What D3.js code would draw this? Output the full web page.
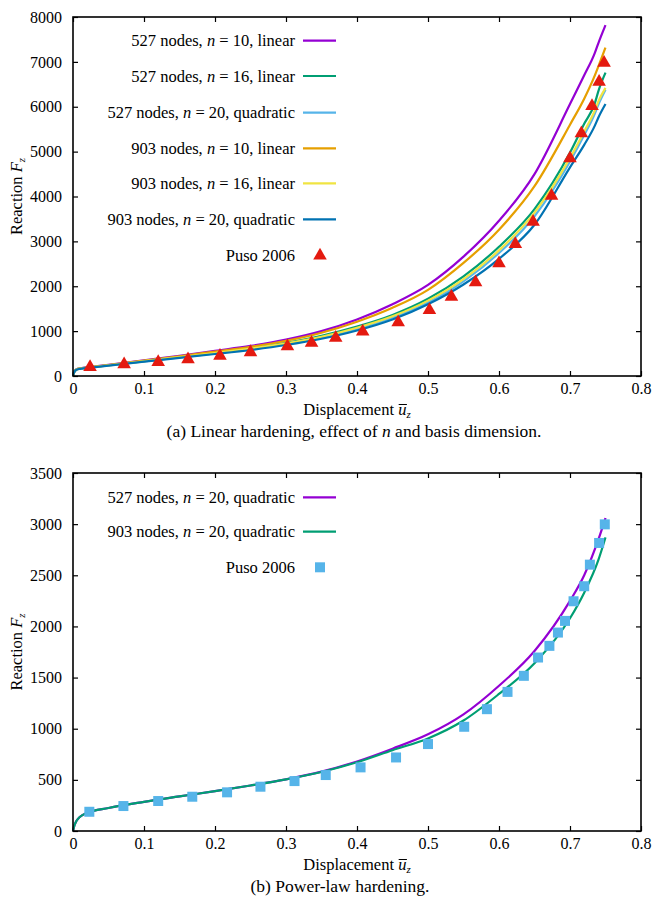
<!DOCTYPE html>
<html><head><meta charset="utf-8">
<script src="https://cdn.jsdelivr.net/npm/d3@7"></script>
<style>
html,body{margin:0;padding:0;background:#fff;}
svg text{font-family:"Liberation Serif","DejaVu Serif",serif;fill:#000;}
</style></head>
<body><svg id="c" width="654" height="898"></svg>
<script>
// ---------- data: panel (a) linear hardening ----------
const xA = [0, 0.002, 0.005, 0.01, 0.025, 0.05, 0.1, 0.15, 0.2, 0.25, 0.3, 0.35, 0.4, 0.45, 0.5, 0.55, 0.6, 0.65, 0.7, 0.72, 0.735, 0.74, 0.75];
const a527n10 = [0, 100, 150, 170, 200, 250, 350, 450, 560, 670, 810, 1000, 1260, 1600, 2030, 2660, 3460, 4500, 6060, 6700, 7200, 7420, 7820];
const a527n16 = [0, 98, 145, 165, 193, 240, 333, 425, 520, 620, 740, 895, 1100, 1360, 1720, 2220, 2880, 3720, 4980, 5620, 6080, 6350, 6760];
const a527n20q = [0, 96, 142, 162, 190, 236, 326, 415, 505, 600, 715, 860, 1050, 1300, 1640, 2110, 2740, 3560, 4780, 5370, 5850, 6050, 6380];
const a903n10 = [0, 100, 148, 168, 197, 245, 342, 440, 545, 650, 785, 965, 1210, 1520, 1920, 2520, 3260, 4230, 5600, 6180, 6700, 6900, 7320];
const a903n16 = [0, 97, 143, 163, 191, 238, 330, 420, 512, 610, 728, 875, 1075, 1330, 1680, 2160, 2800, 3640, 4860, 5450, 5920, 6120, 6420];
const a903n20q = [0, 95, 140, 160, 187, 232, 320, 405, 490, 580, 690, 830, 1015, 1260, 1600, 2040, 2610, 3370, 4650, 5150, 5580, 5760, 6060];
const pusoAx = [0.024, 0.072, 0.12, 0.162, 0.207, 0.25, 0.302, 0.336, 0.37, 0.408, 0.458, 0.502, 0.533, 0.567, 0.6, 0.623, 0.648, 0.674, 0.7, 0.716, 0.731, 0.741, 0.748];
const pusoAy = [200, 260, 310, 370, 450, 530, 660, 740, 850, 990, 1196, 1470, 1767, 2087, 2510, 2940, 3437, 4016, 4848, 5405, 6013, 6555, 6978];
const seriesA = ["527 nodes, |n| = 10, linear", "527 nodes, |n| = 16, linear", "527 nodes, |n| = 20, quadratic",
                 "903 nodes, |n| = 10, linear", "903 nodes, |n| = 16, linear", "903 nodes, |n| = 20, quadratic"];
const yTicksA = [0, 1000, 2000, 3000, 4000, 5000, 6000, 7000, 8000];

// ---------- data: panel (b) power-law hardening ----------
const xB = [0, 0.002, 0.005, 0.01, 0.02, 0.05, 0.1, 0.15, 0.2, 0.25, 0.3, 0.35, 0.4, 0.45, 0.5, 0.55, 0.6, 0.65, 0.7, 0.72, 0.74, 0.75];
const b527n20q = [0, 55, 100, 140, 178, 225, 285, 338, 390, 445, 505, 580, 680, 805, 945, 1140, 1420, 1760, 2250, 2500, 2850, 3060];
const b903n20q = [0, 55, 100, 140, 178, 225, 285, 338, 390, 445, 505, 577, 672, 790, 905, 1080, 1340, 1640, 2080, 2330, 2650, 2870];
const pusoBx = [0.023, 0.071, 0.12, 0.168, 0.217, 0.264, 0.312, 0.356, 0.405, 0.455, 0.5, 0.551, 0.583, 0.612, 0.635, 0.655, 0.671, 0.683, 0.693, 0.705, 0.720, 0.728, 0.741, 0.749];
const pusoBy = [188, 244, 293, 335, 378, 433, 488, 547, 622, 719, 850, 1019, 1191, 1360, 1517, 1696, 1810, 1940, 2054, 2246, 2393, 2604, 2816, 2998];
const seriesB = ["527 nodes, |n| = 20, quadratic", "903 nodes, |n| = 20, quadratic"];
const yTicksB = [0, 500, 1000, 1500, 2000, 2500, 3000, 3500];

const xTicks = [0, 0.1, 0.2, 0.3, 0.4, 0.5, 0.6, 0.7, 0.8];
const puso = "Puso 2006";
const captionA = ["(a) Linear hardening, effect of ", "n", " and basis dimension."];
const captionB = "(b) Power-law hardening.";

const colA = ["#9400d3", "#009e73", "#56b4e9", "#e69f00", "#f0e442", "#0072b2"];
const colB = ["#9400d3", "#009e73"];

const svg = d3.select("#c");
const FS = 16.5, TFS = 16, CFS = 17.5;

function richText(sel, str) {
  str.split("|").forEach((p, i) => {
    const t = sel.append("tspan").text(p);
    if (i % 2 === 1) t.attr("font-style", "italic");
  });
}

function panel(o) {
  const g = svg.append("g");
  const x = d3.scaleLinear().domain([0, 0.8]).range([73, 641]);
  const y = d3.scaleLinear().domain([0, o.ymax]).range([o.bottom, o.top]);

  const tl = 5;
  g.append("g").attr("transform", `translate(0,${o.bottom})`)
    .call(d3.axisBottom(x).tickValues(xTicks).tickSizeInner(-tl).tickSizeOuter(0).tickPadding(7)
      .tickFormat(d => d === 0 ? "0" : d3.format(".1f")(d)))
    .call(s => s.select(".domain").remove());
  g.append("g").attr("transform", `translate(0,${o.top})`)
    .call(d3.axisTop(x).tickValues(xTicks).tickSizeInner(-tl).tickSizeOuter(0).tickFormat(""))
    .call(s => s.select(".domain").remove());
  g.append("g").attr("transform", `translate(73,0)`)
    .call(d3.axisLeft(y).tickValues(o.yTicks).tickSizeInner(-tl).tickSizeOuter(0).tickPadding(11).tickFormat(d3.format("d")))
    .call(s => s.select(".domain").remove());
  g.append("g").attr("transform", `translate(641,0)`)
    .call(d3.axisRight(y).tickValues(o.yTicks).tickSizeInner(-tl).tickSizeOuter(0).tickFormat(""))
    .call(s => s.select(".domain").remove());
  g.selectAll(".tick line").attr("stroke", "#000").attr("stroke-width", 1.2);
  g.selectAll(".tick text").attr("font-size", TFS).attr("font-family", "Liberation Serif");

  const line = d3.line().x(d => x(d[0])).y(d => y(d[1])).curve(d3.curveMonotoneX);
  o.series.forEach((s, i) => {
    g.append("path").datum(o.xs.map((v, k) => [v, s[k]]))
      .attr("fill", "none").attr("stroke", o.colors[i]).attr("stroke-width", 2.2)
      .attr("stroke-linejoin", "round").attr("d", line);
  });

  const sym = d3.symbol().type(o.symbol).size(o.symSize);
  g.selectAll("path.mk").data(o.px.map((v, k) => [v, o.py[k]])).join("path").attr("class", "mk")
    .attr("transform", d => `translate(${x(d[0])},${y(d[1])})`)
    .attr("d", sym).attr("fill", o.markColor);

  g.append("rect").attr("x", 73).attr("y", o.top).attr("width", 641 - 73).attr("height", o.bottom - o.top)
    .attr("fill", "none").attr("stroke", "#000").attr("stroke-width", 1.6);

  const lg = g.append("g");
  o.names.forEach((n, i) => {
    const yy = o.legY[i];
    const t = lg.append("text").attr("x", 295).attr("y", yy + 5.5).attr("text-anchor", "end").attr("font-size", FS);
    richText(t, n);
    lg.append("line").attr("x1", 303).attr("x2", 336).attr("y1", yy).attr("y2", yy)
      .attr("stroke", o.colors[i]).attr("stroke-width", 2.2);
  });
  const py = o.legY[o.names.length];
  lg.append("text").attr("x", 295).attr("y", py + 5.5).attr("text-anchor", "end").attr("font-size", FS).text(puso);
  lg.append("path").attr("transform", `translate(320,${py})`).attr("d", sym).attr("fill", o.markColor);

  // axis labels
  const ly = o.bottom + 39;
  const xl = g.append("text").attr("x", 357).attr("y", ly).attr("text-anchor", "middle").attr("font-size", FS);
  xl.append("tspan").text("Displacement ");
  xl.append("tspan").attr("font-style", "italic").text("u");
  xl.append("tspan").attr("font-style", "italic").attr("font-size", 11).attr("dy", 3).text("z");
  const un = xl.node();
  const idx = "Displacement ".length;
  const p0 = un.getStartPositionOfChar(idx), p1 = un.getEndPositionOfChar(idx);
  g.append("line").attr("x1", p0.x + 0.5).attr("x2", p1.x + 0.5).attr("y1", ly - 10.5).attr("y2", ly - 10.5)
    .attr("stroke", "#000").attr("stroke-width", 1);

  const cy = (o.top + o.bottom) / 2;
  const yl = g.append("text").attr("transform", `translate(22,${cy}) rotate(-90)`).attr("text-anchor", "middle").attr("font-size", FS);
  yl.append("tspan").text("Reaction ");
  yl.append("tspan").attr("font-style", "italic").text("F");
  yl.append("tspan").attr("font-style", "italic").attr("font-size", 11).attr("dy", 3).text("z");

  const cap = g.append("text").attr("x", o.capX).attr("y", o.bottom + 61).attr("text-anchor", "middle").attr("font-size", CFS);
  o.caption(cap);
}

panel({
  top: 17, bottom: 376, ymax: 8000, yTicks: yTicksA, xs: xA,
  series: [a527n10, a527n16, a527n20q, a903n10, a903n16, a903n20q], colors: colA, names: seriesA,
  px: pusoAx, py: pusoAy, symbol: d3.symbolTriangle, symSize: 80, markColor: "#e41a10",
  legY: [40.7, 76, 112.7, 148.3, 183.3, 219.3, 255.7], capX: 354,
  caption: t => { t.append("tspan").text(captionA[0]); t.append("tspan").attr("font-style", "italic").text(captionA[1]); t.append("tspan").text(captionA[2]); }
});
panel({
  top: 473, bottom: 831, ymax: 3500, yTicks: yTicksB, xs: xB,
  series: [b527n20q, b903n20q], colors: colB, names: seriesB,
  px: pusoBx, py: pusoBy, symbol: d3.symbolSquare, symSize: 100, markColor: "#56b4e9",
  legY: [497.3, 531.7, 567.3], capX: 340,
  caption: t => t.text(captionB)
});
</script></body></html>
